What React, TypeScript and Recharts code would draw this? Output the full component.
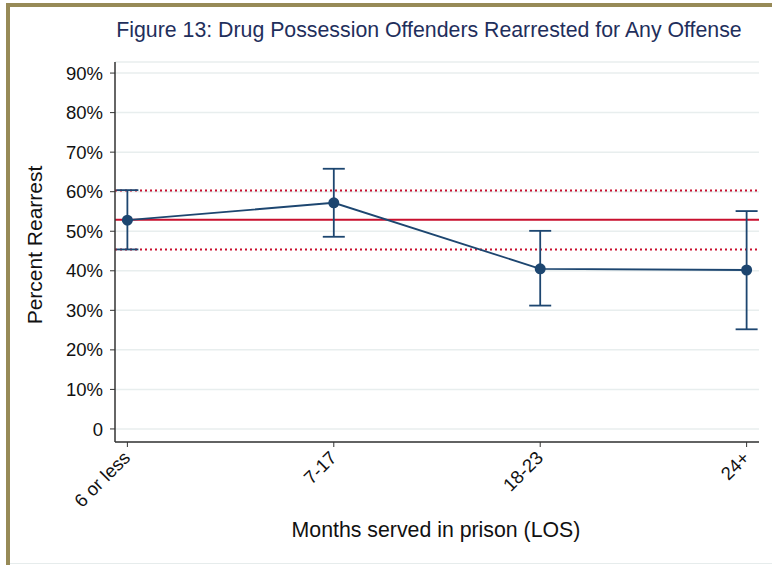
import React from "react";
import {
  ComposedChart,
  Line,
  XAxis,
  YAxis,
  CartesianGrid,
  ReferenceLine,
  ErrorBar,
} from "recharts";

const categories = ["6 or less", "7-17", "18-23", "24+"];
const rearrestPct = [52.8, 57.2, 40.5, 40.2];
const ciLower = [45.4, 48.6, 31.2, 25.2];
const ciUpper = [60.4, 65.8, 50.1, 55.1];
const yTicks = [0, 10, 20, 30, 40, 50, 60, 70, 80, 90];

// overall mean and its confidence band
const overallMean = 52.9;
const overallLower = 45.4;
const overallUpper = 60.3;

const data = categories.map((name, i) => ({
  idx: i,
  name,
  pct: rearrestPct[i],
  err: [rearrestPct[i] - ciLower[i], ciUpper[i] - rearrestPct[i]],
}));

const NAVY = "#1d4670";
const RED = "#c8102e";
const FONT = "'Liberation Sans', Arial, Helvetica, sans-serif";

const XTick = (props: any) => {
  const { x, y, payload } = props;
  return (
    <text
      x={x + 4}
      y={y + 10}
      transform={`rotate(-45, ${x + 4}, ${y + 10})`}
      textAnchor="end"
      fontSize={18.5}
      fontFamily={FONT}
      fill="#111"
    >
      {categories[payload.value]}
    </text>
  );
};

const App = () => {
  return (
    <div style={{ position: "absolute", left: 0, top: 0, width: 772, height: 565, background: "#fff", overflow: "hidden" }}>
      <div style={{ position: "absolute", left: 6, top: 3, width: 780, height: 4, background: "#978a57" }} />
      <div style={{ position: "absolute", left: 6, top: 3, width: 4, height: 570, background: "#978a57" }} />
      <div style={{ position: "absolute", left: 10, top: 563, width: 770, height: 1, background: "#e6ecec" }} />
      <div
        style={{
          position: "absolute",
          left: 429,
          top: 30,
          transform: "translate(-50%, -50%)",
          fontFamily: FONT,
          fontSize: 21.3,
          color: "#1f2f5c",
          whiteSpace: "nowrap",
        }}
      >
        Figure 13: Drug Possession Offenders Rearrested for Any Offense
      </div>
      <div
        style={{
          position: "absolute",
          left: 35,
          top: 245,
          transform: "translate(-50%, -50%) rotate(-90deg)",
          fontFamily: FONT,
          fontSize: 21,
          color: "#111",
          whiteSpace: "nowrap",
        }}
      >
        Percent Rearrest
      </div>
      <div
        style={{
          position: "absolute",
          left: 436,
          top: 530,
          transform: "translate(-50%, -50%)",
          fontFamily: FONT,
          fontSize: 21.3,
          color: "#111",
          whiteSpace: "nowrap",
        }}
      >
        Months served in prison (LOS)
      </div>
      <div style={{ position: "absolute", left: 0, top: 0 }}>
        <ComposedChart
          width={772}
          height={565}
          data={data}
          margin={{ top: 62, right: 13, bottom: 63, left: 55 }}
        >
          <CartesianGrid horizontal vertical={false} stroke="#e8eeee" strokeWidth={1.5} />
          <XAxis
            type="number"
            dataKey="idx"
            domain={[-0.06, 3.06]}
            ticks={[0, 1, 2, 3]}
            allowDataOverflow
            height={60}
            tick={<XTick />}
            tickSize={5}
            interval={0}
            stroke="#333"
            axisLine={{ stroke: "#333", strokeWidth: 1.5 }}
            tickLine={{ stroke: "#333" }}
          />
          <YAxis
            type="number"
            width={60}
            domain={[-3.3, 92.8]}
            ticks={yTicks}
            allowDataOverflow
            interval={0}
            tickSize={5}
            tickFormatter={(v: number) => (v === 0 ? "0" : `${v}%`)}
            tick={{ fontSize: 18.5, fill: "#111", fontFamily: FONT, dx: -5 }}
            axisLine={{ stroke: "#333", strokeWidth: 1.5 }}
            tickLine={{ stroke: "#333" }}
          />
          <ReferenceLine y={overallUpper} stroke={RED} strokeWidth={2} strokeDasharray="2 3" />
          <ReferenceLine y={overallLower} stroke={RED} strokeWidth={2} strokeDasharray="2 3" />
          <ReferenceLine y={overallMean} stroke={RED} strokeWidth={2} />
          <Line
            dataKey="pct"
            type="linear"
            stroke={NAVY}
            strokeWidth={1.8}
            dot={{ r: 5.5, fill: NAVY, stroke: NAVY, strokeWidth: 0 }}
            isAnimationActive={false}
          >
            <ErrorBar dataKey="err" width={11} stroke={NAVY} strokeWidth={1.8} direction="y" />
          </Line>
        </ComposedChart>
      </div>
    </div>
  );
};

export default App;
